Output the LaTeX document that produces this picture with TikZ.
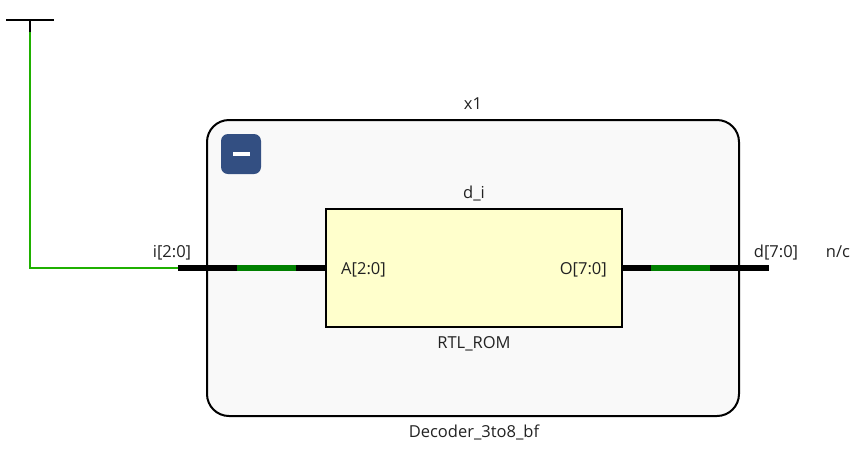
\documentclass[tikz,border=0pt]{standalone}
\usepackage{fontspec}
\setmainfont{Open Sans}
\definecolor{wire}{HTML}{1FB000}
\definecolor{bus}{HTML}{008000}
\definecolor{frame}{HTML}{F9F9F9}
\definecolor{rom}{HTML}{FFFFCC}
\definecolor{btn}{HTML}{334F82}
\definecolor{ink}{HTML}{222222}

\begin{document}
\begin{tikzpicture}[x=1pt,y=-1pt,font=\fontsize{16.5}{19}\selectfont, every node/.style={text=ink}]
  \useasboundingbox (0,0) rectangle (863,467);
  \tikzset{
    cell/.style={draw=black,line width=2pt,inner sep=0pt,minimum width=#1},
    label/.style={inner sep=0pt,anchor=base},
    buswire/.style={line width=6pt,black},
    busmid/.style={line width=6pt,bus}
  }
  % Hierarchy frame and the collapse button in its corner.
  \node[cell=532pt,fill=frame,rounded corners=22pt,minimum height=296pt] (x1) at (473,268) {};
  \node[fill=btn,rounded corners=7pt,minimum width=40pt,minimum height=40pt,inner sep=0pt] (btn) at (241,154) {};
  \node[fill=white,minimum width=17pt,minimum height=4pt,inner sep=0pt] (minus) at (btn.center) {};
  \node[cell=296pt,fill=rom,minimum height=118pt] (dec) at (474,268) {};

  % Ports and wire ends.
  \coordinate (gnd) at (30,20);
  \coordinate (gndl) at (6,20);
  \coordinate (gndr) at (54,20);
  \coordinate (stub) at (30,32);
  \coordinate (turn) at (30,268);
  \coordinate (ipin) at (178,268);
  \coordinate (ia) at (237,268);
  \coordinate (ib) at (296,268);
  \coordinate (oa) at (651,268);
  \coordinate (ob) at (710,268);
  \coordinate (dpin) at (769,268);

  % Tie-off and the green net up to it.
  \draw[black,line width=2pt] (gndl) -- (gndr);
  \draw[black,line width=2pt] (gnd) -- (stub);
  \draw[wire,line width=2pt] (stub) -- (turn) -- (ipin);

  % Buses stay black with a green section in the middle.
  \draw[buswire] (ipin) -- (ia);
  \draw[busmid] (ia) -- (ib);
  \draw[buswire] (ib) -- (dec.west |- ib);
  \draw[buswire] (dec.east |- oa) -- (oa);
  \draw[busmid] (oa) -- (ob);
  \draw[buswire] (ob) -- (dpin);

  \node[label] (x1name) at (473,109) {x1};
  \node[label] (decname) at (474,198) {d\_i};
  \node[label] (romname) at (474,348) {RTL\_ROM};
  \node[label] (modname) at (474,437) {Decoder\_3to8\_bf};
  \node[label] (iname) at (172,257) {i[2:0]};
  \node[label] (dname) at (776,257) {d[7:0]};
  \node[label] (nc) at (838,257) {n/c};
  \node[label,anchor=base west] (aport) at (341,274) {A[2:0]};
  \node[label,anchor=base east] (oport) at (607,274) {O[7:0]};
\end{tikzpicture}
\end{document}
